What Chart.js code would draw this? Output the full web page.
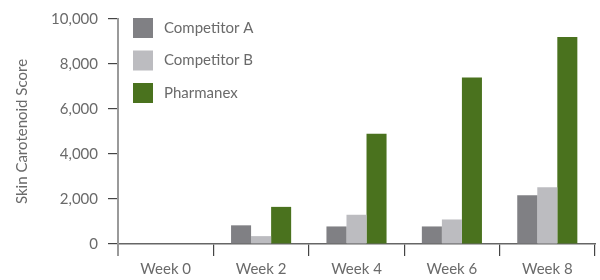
<!DOCTYPE html>
<html><head><meta charset="utf-8">
<script src="https://cdn.jsdelivr.net/npm/chart.js@4/dist/chart.umd.min.js"></script>
<style>html,body{margin:0;padding:0;background:#fff}#wrap{width:600px;height:280px}</style>
</head><body><div id="wrap"><canvas id="c" width="600" height="280"></canvas></div>
<script>
const categories = ["Week 0", "Week 2", "Week 4", "Week 6", "Week 8"];
const competitorA = [0, 830, 780, 780, 2170];
const competitorB = [0, 350, 1300, 1090, 2520];
const pharmanex = [0, 1650, 4900, 7400, 9200];
const seriesNames = ["Competitor A", "Competitor B", "Pharmanex"];
const seriesColors = ["#808084", "#bcbcc0", "#4a721e"];
const yTitle = "Skin Carotenoid Score";
const FONT = "Lato, 'Open Sans', sans-serif";

const legendPlugin = {
  id: 'inLegend',
  afterDraw(chart) {
    const ctx = chart.ctx;
    const x0 = chart.chartArea.left + 15;
    ctx.save();
    ctx.font = "15px " + FONT;
    ctx.textBaseline = 'middle';
    chart.data.datasets.forEach((ds, i) => {
      const y = 18 + i * 32.5;
      ctx.fillStyle = ds.backgroundColor;
      ctx.fillRect(x0, y, 20, 20);
      ctx.fillStyle = '#6a6a6a';
      ctx.fillText(ds.label, x0 + 31, y + 10);
    });
    ctx.restore();
  }
};

new Chart(document.getElementById('c'), {
  type: 'bar',
  data: {
    labels: categories,
    datasets: [
      { label: seriesNames[0], data: competitorA, backgroundColor: seriesColors[0] },
      { label: seriesNames[1], data: competitorB, backgroundColor: seriesColors[1] },
      { label: seriesNames[2], data: pharmanex, backgroundColor: seriesColors[2] }
    ]
  },
  options: {
    responsive: false,
    animation: false,
    devicePixelRatio: 1,
    layout: { padding: { top: 14, right: 5, left: 0, bottom: 0 } },
    datasets: { bar: { barPercentage: 1, categoryPercentage: 0.63 } },
    plugins: { legend: { display: false }, tooltip: { enabled: false } },
    scales: {
      x: {
        offset: true,
        grid: { offset: true, drawOnChartArea: false, tickLength: 12,
                color: (c) => c.index === 0 ? '#9a9a9a' : '#444', lineWidth: (c) => c.index === 0 ? 2 : 1.2 },
        border: { color: '#666', width: 1.5 },
        ticks: { color: '#6a6a6a', font: { family: FONT, size: 15 }, padding: 4 },
        afterFit(s) { s.height = 36; }
      },
      y: {
        min: 0, max: 10000,
        grid: { drawOnChartArea: false, tickLength: 10, color: '#444', lineWidth: 1.2 },
        border: { color: '#9a9a9a', width: 2 },
        ticks: { stepSize: 2000, color: '#6a6a6a', font: { family: FONT, size: 15 }, padding: 10,
                 callback: (v) => v.toLocaleString('en-US') },
        title: { display: true, text: yTitle, color: '#6a6a6a', font: { family: FONT, size: 15 }, padding: { top: 13, bottom: 0 } },
        afterFit(s) { s.width = 118; }
      }
    }
  },
  plugins: [legendPlugin]
});
</script></body></html>
